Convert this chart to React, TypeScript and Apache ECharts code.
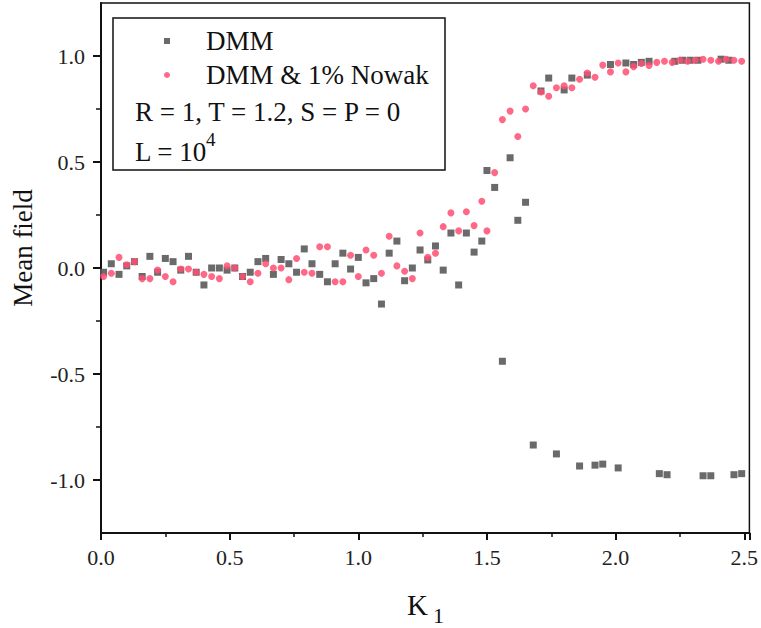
import React, { useEffect, useRef } from "react";
import * as echarts from "echarts";

// DMM series: [K1, mean field]
const dmmData: [number, number][] = [
  [0.01, -0.02], [0.04, 0.02], [0.07, -0.03], [0.1, 0.01], [0.13, 0.03], [0.16, -0.04],
  [0.19, 0.055], [0.22, -0.02], [0.25, 0.045], [0.28, 0.03], [0.31, -0.01], [0.34, 0.055],
  [0.37, -0.02], [0.4, -0.08], [0.43, 0.0], [0.46, 0.0], [0.49, -0.01], [0.52, 0.0],
  [0.55, -0.04], [0.58, -0.02], [0.61, 0.03], [0.64, 0.045], [0.67, -0.03], [0.7, 0.04],
  [0.73, 0.02], [0.76, -0.02], [0.79, 0.09], [0.82, 0.02], [0.85, -0.03], [0.88, -0.065],
  [0.91, 0.02], [0.94, 0.07], [0.97, -0.005], [1.0, 0.05], [1.03, -0.07], [1.06, -0.05],
  [1.09, -0.17], [1.12, 0.07], [1.15, 0.127], [1.18, -0.06], [1.21, 0.0], [1.24, 0.085],
  [1.27, 0.038], [1.3, 0.104], [1.33, -0.01], [1.36, 0.165], [1.39, -0.08], [1.42, 0.165],
  [1.45, 0.075], [1.48, 0.127], [1.5, 0.46], [1.53, 0.38], [1.56, -0.44], [1.59, 0.52],
  [1.62, 0.225], [1.65, 0.31], [1.68, -0.835], [1.71, 0.835], [1.74, 0.896], [1.77, -0.877],
  [1.8, 0.84], [1.83, 0.896], [1.86, -0.934], [1.89, 0.91], [1.92, -0.93], [1.95, -0.925],
  [1.98, 0.96], [2.01, -0.943], [2.04, 0.967], [2.07, 0.96], [2.1, 0.97], [2.13, 0.975],
  [2.17, -0.97], [2.2, -0.975], [2.23, 0.975], [2.26, 0.98], [2.29, 0.98], [2.32, 0.98],
  [2.34, -0.98], [2.37, -0.98], [2.41, 0.985], [2.44, 0.98], [2.46, -0.975], [2.49, -0.97],
];

// DMM & 1% Nowak series: [K1, mean field]
const nowakData: [number, number][] = [
  [0.01, -0.04], [0.04, -0.025], [0.07, 0.05], [0.1, 0.015], [0.13, 0.03], [0.16, -0.05],
  [0.19, -0.05], [0.22, -0.01], [0.25, -0.04], [0.28, -0.065], [0.31, -0.005], [0.34, -0.005],
  [0.37, -0.02], [0.4, -0.03], [0.43, -0.04], [0.46, -0.05], [0.49, 0.01], [0.52, 0.0],
  [0.55, -0.04], [0.58, -0.065], [0.61, -0.025], [0.64, 0.02], [0.67, 0.0], [0.7, 0.0],
  [0.73, -0.055], [0.76, 0.045], [0.79, -0.02], [0.82, -0.025], [0.85, 0.1], [0.88, 0.1],
  [0.91, -0.065], [0.94, -0.065], [0.97, 0.06], [1.0, -0.04], [1.03, 0.085], [1.06, 0.06],
  [1.09, -0.025], [1.12, 0.15], [1.15, 0.01], [1.18, -0.015], [1.21, -0.05], [1.24, 0.165],
  [1.27, 0.05], [1.3, 0.07], [1.33, 0.195], [1.36, 0.26], [1.39, 0.175], [1.42, 0.265],
  [1.45, 0.2], [1.48, 0.315], [1.5, 0.175], [1.53, 0.45], [1.56, 0.7], [1.59, 0.74],
  [1.62, 0.62], [1.65, 0.75], [1.68, 0.86], [1.71, 0.83], [1.74, 0.81], [1.77, 0.85],
  [1.8, 0.86], [1.83, 0.85], [1.86, 0.89], [1.89, 0.92], [1.92, 0.9], [1.95, 0.957],
  [1.98, 0.925], [2.01, 0.967], [2.04, 0.925], [2.07, 0.95], [2.1, 0.965], [2.13, 0.955],
  [2.16, 0.97], [2.19, 0.975], [2.22, 0.97], [2.25, 0.98], [2.28, 0.975], [2.31, 0.98],
  [2.34, 0.985], [2.37, 0.98], [2.4, 0.975], [2.43, 0.985], [2.46, 0.98], [2.49, 0.975],
];

const yMajorTicks = [-1.0, -0.5, 0.0, 0.5, 1.0];
const yMinorTicks = [-0.75, -0.25, 0.25, 0.75];

const FONT = "Liberation Serif";

export default function App() {
  const ref = useRef<HTMLDivElement>(null);
  useEffect(() => {
    if (!ref.current) return;
    const chart = echarts.init(ref.current, undefined, { renderer: "svg" });
    const txt = (text: string, size: number, extra: any = {}) => ({
      text,
      fontFamily: FONT,
      fontSize: size,
      fill: "#111",
      verticalAlign: "middle",
      ...extra,
    });
    chart.setOption({
      animation: false,
      backgroundColor: "#ffffff",
      textStyle: { fontFamily: FONT },
      grid: {
        left: 101,
        top: 3,
        right: 9,
        bottom: 95,
        show: true,
        borderColor: "#111",
        borderWidth: 1.5,
        backgroundColor: "transparent",
      },
      legend: {
        orient: "vertical",
        left: 164,
        top: 27,
        padding: 0,
        itemWidth: 6,
        itemHeight: 6,
        itemGap: 6,
        data: ["DMM", "DMM & 1% Nowak"],
        textStyle: {
          fontFamily: FONT,
          fontSize: 27,
          lineHeight: 28,
          color: "#111",
          padding: [0, 0, 0, 31],
        },
      },
      xAxis: {
        type: "value",
        min: 0,
        max: 2.52,
        interval: 0.5,
        axisLine: { show: true, onZero: false, lineStyle: { color: "#111", width: 2 } },
        axisTick: { show: true, length: 7, lineStyle: { color: "#111", width: 2 } },
        minorTick: { show: true, splitNumber: 2, length: 4, lineStyle: { color: "#111", width: 1.5 } },
        splitLine: { show: false },
        axisLabel: {
          fontFamily: FONT,
          fontSize: 22,
          color: "#222",
          margin: 13,
          formatter: (v: number) => v.toFixed(1),
        },
      },
      yAxis: [
        {
          type: "value",
          min: -1.25,
          max: 1.25,
          position: "left",
          axisLine: { show: true, onZero: false, lineStyle: { color: "#111", width: 2 } },
          axisTick: { show: true, length: 8, customValues: yMajorTicks, lineStyle: { color: "#111", width: 2 } },
          splitLine: { show: false },
          axisLabel: {
            customValues: yMajorTicks,
            fontFamily: FONT,
            fontSize: 22,
            color: "#222",
            margin: 16,
            formatter: (v: number) => v.toFixed(1),
          },
        },
        {
          type: "value",
          min: -1.25,
          max: 1.25,
          position: "left",
          axisLine: { show: false, onZero: false },
          axisTick: { show: true, length: 5, customValues: yMinorTicks, lineStyle: { color: "#111", width: 1.5 } },
          splitLine: { show: false },
          axisLabel: { show: false },
        },
      ],
      series: [
        {
          name: "DMM",
          type: "scatter",
          symbol: "rect",
          symbolSize: 7,
          itemStyle: { color: "#5a5a5a", opacity: 0.9 },
          data: dmmData,
        },
        {
          name: "DMM & 1% Nowak",
          type: "scatter",
          symbol: "circle",
          symbolSize: 7,
          itemStyle: { color: "#ff4d72", opacity: 0.85 },
          data: nowakData,
        },
      ],
      graphic: [
        {
          type: "rect",
          shape: { x: 113, y: 18, width: 332, height: 152 },
          style: { fill: "transparent", stroke: "#111", lineWidth: 1.5 },
          z: 10,
        },
        { type: "text", x: 135, y: 112, style: txt("R = 1, T = 1.2, S = P = 0", 27), z: 10 },
        { type: "text", x: 135, y: 152, style: txt("L = 10", 27), z: 10 },
        { type: "text", x: 206, y: 139, style: txt("4", 19), z: 10 },
        {
          type: "text",
          x: 23,
          y: 248,
          rotation: Math.PI / 2,
          style: txt("Mean field", 27, { align: "center" }),
        },
        { type: "text", x: 407, y: 605, style: txt("K", 29) },
        { type: "text", x: 433, y: 615, style: txt("1", 22) },
      ],
    });
    return () => chart.dispose();
  }, []);
  return <div ref={ref} style={{ width: 761, height: 628, position: "absolute", left: 0, top: 0 }} />;
}
